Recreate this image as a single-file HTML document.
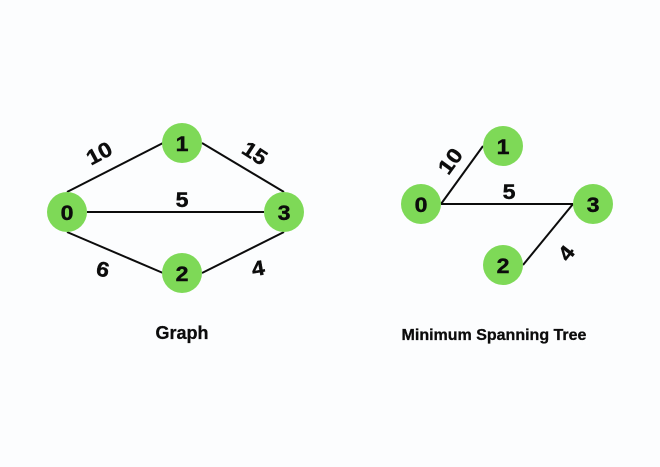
<!DOCTYPE html>
<html>
<head>
<meta charset="utf-8">
<style>
html,body{margin:0;padding:0;background:#fcfdfe;}
svg{display:block;}
text{font-family:"Liberation Sans",sans-serif;font-weight:bold;fill:#0c0c0c;stroke:#0c0c0c;text-anchor:middle;}
</style>
</head>
<body>
<svg width="660" height="467" viewBox="0 0 660 467" xmlns="http://www.w3.org/2000/svg">
<rect width="660" height="467" fill="#fcfdfe"/>
<g stroke="#0c0c0c" stroke-width="2" fill="none">
<line x1="67" y1="192" x2="163" y2="143"/>
<line x1="202" y1="143" x2="284" y2="192"/>
<line x1="87" y1="212" x2="264" y2="212"/>
<line x1="67" y1="232" x2="163" y2="273"/>
<line x1="202" y1="273" x2="284" y2="232"/>
<line x1="441" y1="204" x2="483" y2="146"/>
<line x1="441" y1="204" x2="573" y2="204"/>
<line x1="573" y1="204" x2="523" y2="265"/>
</g>
<g fill="#7ed957">
<circle cx="67" cy="212" r="20"/>
<circle cx="182" cy="143" r="20"/>
<circle cx="182" cy="273" r="20"/>
<circle cx="284" cy="212" r="20"/>
<circle cx="421" cy="204" r="20"/>
<circle cx="503" cy="146" r="20"/>
<circle cx="503" cy="265" r="20"/>
<circle cx="593" cy="204" r="20"/>
</g>
<g font-size="21" stroke-width="0.4">
<text transform="translate(67,220) scale(1.1,1)">0</text>
<text transform="translate(182,151) scale(1.1,1)">1</text>
<text transform="translate(182,281) scale(1.1,1)">2</text>
<text transform="translate(284,220) scale(1.1,1)">3</text>
<text transform="translate(421,212) scale(1.1,1)">0</text>
<text transform="translate(503,154) scale(1.1,1)">1</text>
<text transform="translate(503,273) scale(1.1,1)">2</text>
<text transform="translate(593,212) scale(1.1,1)">3</text>
</g>
<g font-size="21" stroke-width="0.4">
<text transform="translate(99,153) rotate(-28) scale(1.12,1) translate(0,7.5)">10</text>
<text transform="translate(255,153) rotate(33) scale(1.08,1) translate(0,7.5)">15</text>
<text transform="translate(182,207) scale(1.1,1)">5</text>
<text transform="translate(103,269) rotate(12) scale(1.1,1) translate(0,7.5)">6</text>
<text transform="translate(258,268) rotate(-10) scale(1.1,1) translate(0,7.5)">4</text>
<text transform="translate(450,161) rotate(-54) scale(1.12,1) translate(0,7.5)">10</text>
<text transform="translate(509,199) scale(1.1,1)">5</text>
<text transform="translate(566,253) rotate(-52) scale(1.1,1) translate(0,7.5)">4</text>
</g>
<text x="182" y="339" font-size="18" stroke-width="0.3">Graph</text>
<text x="494" y="340" font-size="16" stroke-width="0.3">Minimum Spanning Tree</text>
</svg>
</body>
</html>
